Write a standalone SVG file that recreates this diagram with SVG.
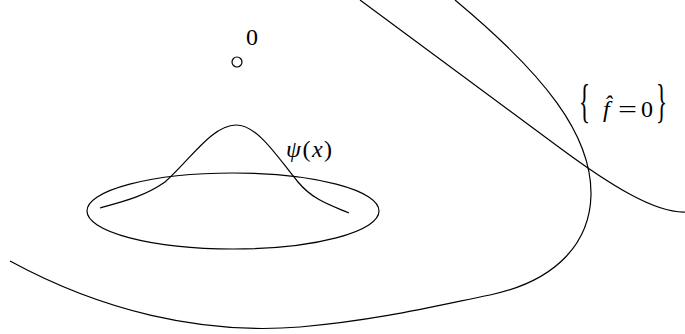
<svg xmlns="http://www.w3.org/2000/svg" width="685" height="334" viewBox="0 0 685 334">
<style>
.c{fill:none;stroke:#000;stroke-width:1.2}
.t{font-family:"Liberation Serif","DejaVu Serif",serif;fill:#000;font-size:24px}
.i{font-style:italic}
.b{font-size:46px}
</style>
<rect width="685" height="334" fill="#fff"/>
<g id="connectors">
<path id="lineA" class="c" d="M360 0 L560 148 C610 185 655 213 685 212"/>
<path id="curveB" class="c" d="M10 261 C100 310 200 335 300 327 C380 320 440 305 490 295 C560 280 590 240 591 195 C592 135 545 75 455 0"/>
<path id="psi" class="c" d="M100 208 C125 201 145 196 165 182 C190 160 212 125 236 125 C258 125 278 158 298 182 C313 200 330 205 349 213"/>
</g>
<g id="ellipse"><ellipse class="c" cx="233" cy="211" rx="146" ry="38"/></g>
<g id="origin">
<circle class="c" cx="237" cy="62" r="5"/>
<text class="t" x="246" y="45">0</text>
</g>
<g id="psi-label"><text class="t" x="286" y="157" letter-spacing="1.5"><tspan class="i">ψ</tspan>(<tspan class="i">x</tspan>)</text></g>
<g id="f-label">
<text class="t"><tspan class="b" x="579" y="117" textLength="11" lengthAdjust="spacingAndGlyphs">{</tspan><tspan class="i" x="603" y="117">f̂</tspan><tspan x="618" y="117" textLength="19" lengthAdjust="spacingAndGlyphs">=</tspan><tspan x="641" y="117">0</tspan><tspan class="b" x="656" y="117" textLength="11" lengthAdjust="spacingAndGlyphs">}</tspan></text>
</g>
</svg>
